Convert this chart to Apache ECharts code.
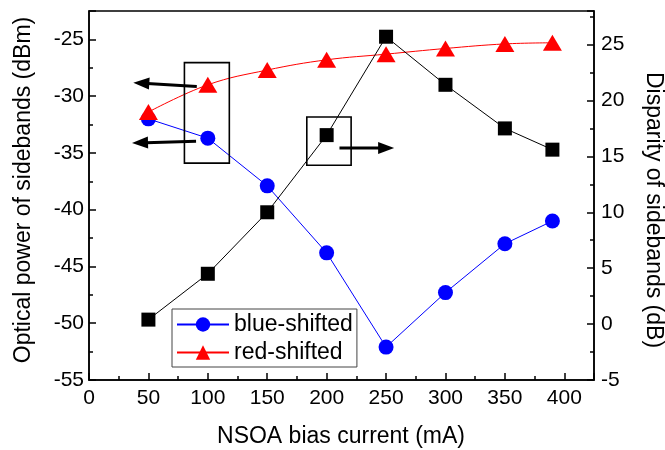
<!DOCTYPE html>
<html><head><meta charset="utf-8">
<script src="https://cdn.jsdelivr.net/npm/echarts@6/dist/echarts.min.js"></script>
<style>html,body{margin:0;padding:0;background:#fff}#c{width:665px;height:450px}</style>
</head><body><div id="c"></div>
<script>
// ---- data ----
const current = [50, 100, 150, 200, 250, 300, 350, 390];           // NSOA bias current (mA)
const blueShifted = [-32.0, -33.7, -37.9, -43.8, -52.1, -47.3, -43.0, -41.0]; // dBm
const redShifted = [-31.4, -29.0, -27.7, -26.8, -26.3, -25.8, -25.4, -25.3];  // dBm
const disparity = [0.4, 4.5, 10.0, 16.9, 25.7, 21.4, 17.5, 15.6];            // dB
const seriesNames = ['blue-shifted', 'red-shifted'];
const xTitle = 'NSOA bias current (mA)';
const yLeftTitle = 'Optical power of sidebands (dBm)';
const yRightTitle = 'Disparity of sidebands (dB)';
// annotation boxes / arrows in data coords (x, left y)
const boxes = [[[80.3, -27.05], [118.1, -35.9]], [[183.3, -31.84], [220.6, -36.09]]];
const arrows = [[[90.7, -29.14], [37.3, -28.81]], [[90.1, -33.98], [36.2, -34.13]], [[210.8, -34.57], [256.8, -34.57]]];

const FONT = "'Liberation Sans', Arial, sans-serif";
const pair = (xs, ys) => xs.map((x, i) => [x, ys[i]]);

const chart = echarts.init(document.getElementById('c'), null, {renderer: 'canvas'});
const axisCommon = {
  axisLine: {show: true, onZero: false, lineStyle: {color: '#000', width: 1.5}},
  axisTick: {show: true, inside: true, length: 7, lineStyle: {color: '#000', width: 1.5}},
  minorTick: {show: true, splitNumber: 2, length: 4, lineStyle: {color: '#000', width: 1.5}},
  splitLine: {show: false},
  axisLabel: {color: '#000', fontSize: 21, fontFamily: FONT}
};
chart.setOption({
  animation: false,
  backgroundColor: '#fff',
  grid: {left: 89, right: 71, top: 11, bottom: 70, show: true, borderColor: '#000', borderWidth: 1.5, backgroundColor: 'transparent'},
  legend: {
    data: seriesNames, orient: 'vertical', left: 172, top: 309,
    borderColor: '#444', borderWidth: 1, padding: [4, 4, 3, 4],
    itemWidth: 52, itemHeight: 18, itemGap: 5,
    textStyle: {color: '#000', fontSize: 23, fontFamily: FONT}
  },
  xAxis: Object.assign({}, axisCommon, {
    type: 'value', min: 0, max: 425, interval: 50,
    axisLabel: Object.assign({}, axisCommon.axisLabel, {margin: 8, formatter: v => (v % 50 === 0 ? String(v) : '')})
  }),
  yAxis: [
    Object.assign({}, axisCommon, {
      type: 'value', position: 'left', min: -55, max: -22.5, interval: 5,
      axisLabel: Object.assign({}, axisCommon.axisLabel, {margin: 5, formatter: v => (v % 5 === 0 ? String(v) : '')})
    }),
    Object.assign({}, axisCommon, {
      type: 'value', position: 'right', min: -5, max: 28, interval: 5,
      axisLabel: Object.assign({}, axisCommon.axisLabel, {margin: 7, formatter: v => (v % 5 === 0 ? String(v) : '')})
    })
  ],
  series: [
    {name: seriesNames[0], type: 'line', yAxisIndex: 0, data: pair(current, blueShifted),
     symbol: 'circle', symbolSize: 15, color: '#0000ff',
     lineStyle: {color: '#0000ff', width: 1}, itemStyle: {color: '#0000ff'}, z: 2},
    {name: seriesNames[1], type: 'line', yAxisIndex: 0, data: pair(current, redShifted),
     symbol: 'triangle', symbolSize: [19, 16], smooth: 0.4, color: '#ff0000',
     lineStyle: {color: '#ff0000', width: 1}, itemStyle: {color: '#ff0000'}, z: 3},
    {name: 'disparity', type: 'line', yAxisIndex: 1, data: pair(current, disparity),
     symbol: 'rect', symbolSize: 14, color: '#000',
     lineStyle: {color: '#000', width: 1}, itemStyle: {color: '#000'}, z: 4}
  ]
});

// annotations
const toPx = p => chart.convertToPixel({xAxisIndex: 0, yAxisIndex: 0}, p);
const g = [];
boxes.forEach(b => {
  const a = toPx(b[0]), c = toPx(b[1]);
  g.push({type: 'rect', shape: {x: Math.min(a[0], c[0]), y: Math.min(a[1], c[1]), width: Math.abs(c[0] - a[0]), height: Math.abs(c[1] - a[1])},
    style: {fill: 'none', stroke: '#000', lineWidth: 1.6}, z: 10});
});
arrows.forEach(ar => {
  const t0 = toPx(ar[0]), t1 = toPx(ar[1]);
  const dx = t1[0] - t0[0], dy = t1[1] - t0[1], len = Math.hypot(dx, dy);
  const ux = dx / len, uy = dy / len, nx = -uy, ny = ux;
  const L = 16, W = 6;
  const bx = t1[0] - ux * L, by = t1[1] - uy * L;
  g.push({type: 'line', shape: {x1: t0[0], y1: t0[1], x2: bx + ux * 2, y2: by + uy * 2}, style: {stroke: '#000', lineWidth: 3}, z: 10});
  g.push({type: 'polygon', shape: {points: [[t1[0], t1[1]], [bx + nx * W, by + ny * W], [bx - nx * W, by - ny * W]]}, style: {fill: '#000'}, z: 10});
});
const titleStyle = {fill: '#000', fontSize: 23, fontFamily: FONT, align: 'center', verticalAlign: 'middle'};
g.push({type: 'text', x: 341, y: 437, style: Object.assign({text: xTitle}, titleStyle), z: 10});
g.push({type: 'text', x: 24, y: 190, rotation: Math.PI / 2, style: Object.assign({text: yLeftTitle}, titleStyle), z: 10});
g.push({type: 'text', x: 653, y: 210, rotation: -Math.PI / 2, style: Object.assign({text: yRightTitle}, titleStyle), z: 10});
chart.setOption({graphic: g});
</script>
</body></html>
